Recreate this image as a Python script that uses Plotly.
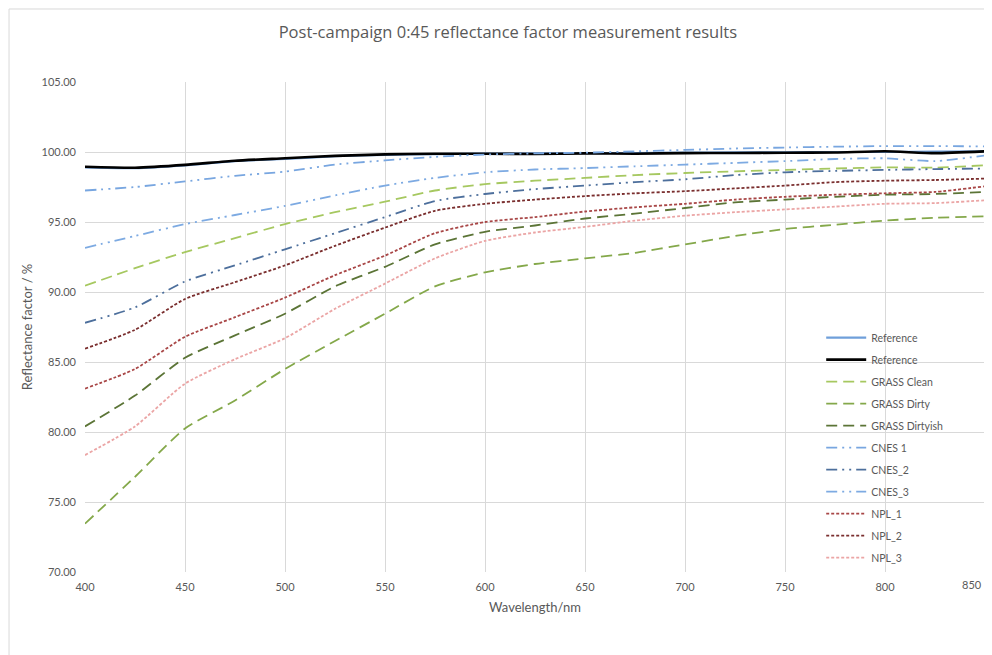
import plotly.graph_objects as go

wavelength = [400, 425, 450, 475, 500, 525, 550, 575, 600, 625, 650, 675, 700, 725, 750, 775, 800, 825, 850]

reference_blue = [98.90, 98.85, 99.05, 99.35, 99.50, 99.70, 99.80, 99.85, 99.88, 99.90, 99.92, 99.93, 99.95, 99.97, 99.98, 100.00, 100.00, 100.02, 100.05]
reference_black = [98.95, 98.88, 99.08, 99.38, 99.55, 99.72, 99.83, 99.87, 99.88, 99.86, 99.90, 99.88, 99.92, 99.93, 99.95, 99.96, 100.05, 99.92, 100.05]
grass_clean = [90.45, 91.70, 92.85, 93.85, 94.85, 95.70, 96.45, 97.25, 97.70, 97.95, 98.15, 98.35, 98.50, 98.62, 98.72, 98.82, 98.90, 98.88, 99.05]
grass_dirty = [73.45, 76.80, 80.25, 82.25, 84.50, 86.50, 88.45, 90.40, 91.40, 92.00, 92.40, 92.80, 93.40, 94.00, 94.50, 94.80, 95.10, 95.30, 95.40]
grass_dirtyish = [80.40, 82.60, 85.30, 86.90, 88.45, 90.40, 91.80, 93.40, 94.30, 94.75, 95.25, 95.60, 96.00, 96.40, 96.60, 96.80, 96.95, 97.00, 97.15]
cnes_1 = [97.25, 97.50, 97.90, 98.30, 98.60, 99.10, 99.40, 99.65, 99.82, 99.90, 99.95, 100.05, 100.15, 100.25, 100.32, 100.38, 100.42, 100.42, 100.40]
cnes_2 = [87.80, 88.90, 90.75, 91.90, 93.05, 94.20, 95.35, 96.50, 97.00, 97.35, 97.60, 97.85, 98.05, 98.35, 98.55, 98.65, 98.72, 98.78, 98.82]
cnes_3 = [93.15, 94.00, 94.85, 95.50, 96.15, 96.90, 97.60, 98.15, 98.55, 98.75, 98.85, 98.98, 99.10, 99.22, 99.35, 99.50, 99.55, 99.35, 99.75]
npl_1 = [83.10, 84.50, 86.80, 88.20, 89.60, 91.20, 92.60, 94.20, 95.00, 95.35, 95.75, 96.05, 96.30, 96.60, 96.80, 96.95, 97.05, 97.15, 97.55]
npl_2 = [85.95, 87.30, 89.50, 90.70, 91.90, 93.30, 94.60, 95.80, 96.30, 96.60, 96.85, 97.05, 97.20, 97.40, 97.60, 97.85, 97.95, 98.00, 98.10]
npl_3 = [78.35, 80.40, 83.45, 85.20, 86.70, 88.80, 90.60, 92.40, 93.65, 94.25, 94.65, 95.10, 95.45, 95.70, 95.90, 96.10, 96.30, 96.35, 96.55]

x_ticks = [400, 450, 500, 550, 600, 650, 700, 750, 800, 850]
y_ticks = [70, 75, 80, 85, 90, 95, 100, 105]

FONT = "Lato"
GREY = "#595959"

long_dash = "11px,6px"
dash_dot_dot = "11px,5px,2px,5px,2px,5px"
short_dash = "3px,2px"

series = [
    ("Reference", reference_blue, "#6F9FDA", 2.2, "solid"),
    ("Reference", reference_black, "#000000", 2.6, "solid"),
    ("GRASS Clean", grass_clean, "#A6C860", 1.8, long_dash),
    ("GRASS Dirty", grass_dirty, "#84A84A", 1.8, long_dash),
    ("GRASS Dirtyish", grass_dirtyish, "#5B7436", 1.8, long_dash),
    ("CNES 1", cnes_1, "#78A6E0", 1.8, dash_dot_dot),
    ("CNES_2", cnes_2, "#4D6F9C", 1.8, dash_dot_dot),
    ("CNES_3", cnes_3, "#7DAAE2", 1.8, dash_dot_dot),
    ("NPL_1", npl_1, "#A84646", 1.8, short_dash),
    ("NPL_2", npl_2, "#7A2E2E", 1.8, short_dash),
    ("NPL_3", npl_3, "#EBA5A5", 1.8, short_dash),
]

fig = go.Figure()
for i, (name, vals, color, width, dash) in enumerate(series):
    fig.add_trace(go.Scatter(
        x=wavelength, y=vals, name=name, mode="lines",
        line=dict(color=color, width=width, dash=dash, shape="spline", smoothing=0.6),
        legendgroup=f"g{i}",
    ))

# the last tick label sits at the right edge: draw it right-aligned so it stays inside the page
tick_text = [str(v) for v in x_ticks[:-1]] + [""]

fig.update_layout(
    width=984, height=647,
    paper_bgcolor="white", plot_bgcolor="white",
    margin=dict(l=77, r=7, t=74, b=83, autoexpand=False),
    font=dict(family=FONT, color=GREY, size=11),
    title=dict(text="Post-campaign 0:45 reflectance factor measurement results",
               x=0.508, xanchor="center", xref="container",
               y=0.963, yanchor="middle", yref="container",
               font=dict(family="Open Sans", size=16.5, color=GREY)),
    showlegend=True,
    legend=dict(x=0.818, y=0.508, xanchor="left", yanchor="top",
                bgcolor="rgba(0,0,0,0)", font=dict(family=FONT, size=10.5, color=GREY),
                itemwidth=40, tracegroupgap=3, traceorder="grouped"),
    xaxis=dict(range=[400, 850], tickvals=x_ticks, ticktext=tick_text,
               automargin=False,
               showgrid=True, gridcolor="#D9D9D9", gridwidth=1, zeroline=False,
               showline=False, ticks="", ticklabelstandoff=7,
               tickfont=dict(family=FONT, size=11, color=GREY),
               title=dict(text="Wavelength/nm", font=dict(family=FONT, size=13, color=GREY), standoff=10)),
    yaxis=dict(range=[70, 105], tickvals=y_ticks, tickformat=".2f",
               automargin=False,
               showgrid=True, gridcolor="#D9D9D9", gridwidth=1, zeroline=False,
               showline=False, ticks="", ticklabelstandoff=8,
               tickfont=dict(family=FONT, size=11, color=GREY),
               title=dict(text="Reflectance factor / %", font=dict(family=FONT, size=13, color=GREY), standoff=5)),
)

fig.add_annotation(x=x_ticks[-1], xref="x", y=-0.0245, yref="paper",
                   text=str(x_ticks[-1]), showarrow=False, xanchor="right", yanchor="middle",
                   xshift=-1, font=dict(family=FONT, size=11, color=GREY))

fig.add_shape(type="rect", xref="paper", yref="paper",
              x0=-0.0844, x1=1.0033, y0=-0.3, y1=1.149,
              line=dict(color="#D9D9D9", width=1), fillcolor="rgba(0,0,0,0)", layer="below")

fig.write_html("out.html")
